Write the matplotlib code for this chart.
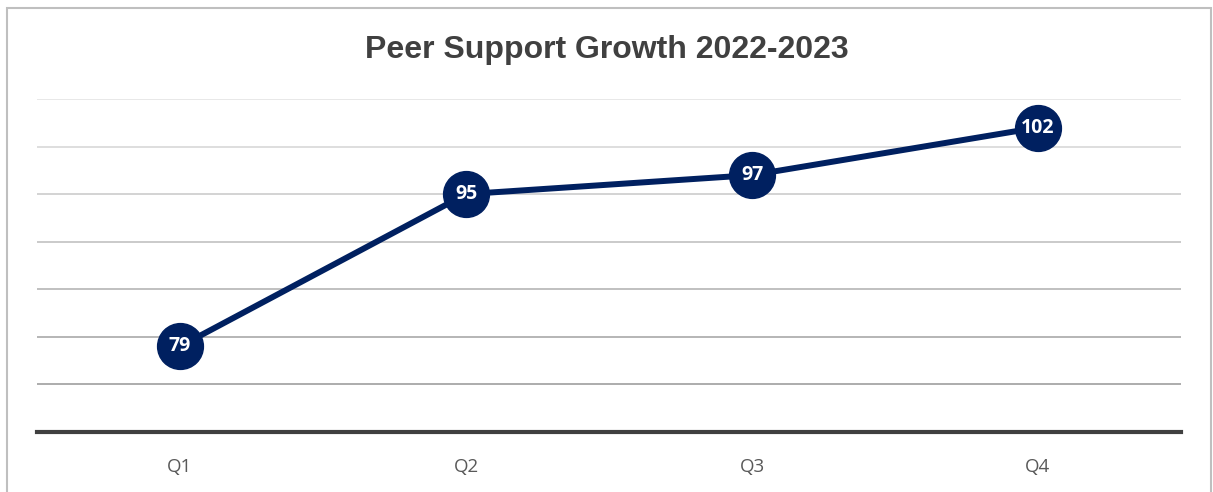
import matplotlib.pyplot as plt
from matplotlib.patches import Rectangle

quarters = ["Q1", "Q2", "Q3", "Q4"]
peer_support = [79, 95, 97, 102]
grid_levels = [75, 80, 85, 90, 95, 100, 105]

NAVY = "#002060"

fig = plt.figure(figsize=(12.13, 4.92), dpi=100)
ax = fig.add_axes([37 / 1213, 1 - 432 / 492, 1144 / 1213, 333 / 492])

x = list(range(len(quarters)))
ax.plot(x, peer_support, color=NAVY, linewidth=4.3, marker="o",
        markersize=33, markerfacecolor=NAVY, markeredgecolor=NAVY,
        solid_capstyle="round", zorder=3)

for xi, val in zip(x, peer_support):
    ax.text(xi, val, str(val), ha="center", va="center", color="white",
            fontsize=14, fontweight="bold", family="Open Sans", zorder=4)

ax.set_xlim(-0.5, len(quarters) - 0.5)
ax.set_ylim(70, 105)
ax.set_xticks(x)
ax.set_xticklabels(quarters, fontsize=13.5, color="#595959", family="Open Sans")
ax.set_yticks([])
ax.tick_params(axis="x", length=0, pad=19)

# gridlines fade from dark at the bottom to light at the top
n = len(grid_levels)
for i, lvl in enumerate(grid_levels):
    shade = 0.65 + (0.90 - 0.65) * i / (n - 1)
    ax.axhline(lvl, color=(shade, shade, shade), linewidth=1.3, zorder=1)

for side in ["top", "right", "left"]:
    ax.spines[side].set_visible(False)
ax.spines["bottom"].set_color("#404040")
ax.spines["bottom"].set_linewidth(3)

fig.text(0.5, 1 - 50 / 492, "Peer Support Growth 2022-2023", ha="center",
         va="center", fontsize=23, fontweight="bold", color="#404040",
         family="Liberation Sans")

# chart border
fig.patches.append(Rectangle((7 / 1213, -0.05), 1204 / 1213, 1.05 - 8 / 492,
                             transform=fig.transFigure, fill=False,
                             edgecolor="#bfbfbf", linewidth=1.5))

fig.savefig("out.png", dpi=100)
